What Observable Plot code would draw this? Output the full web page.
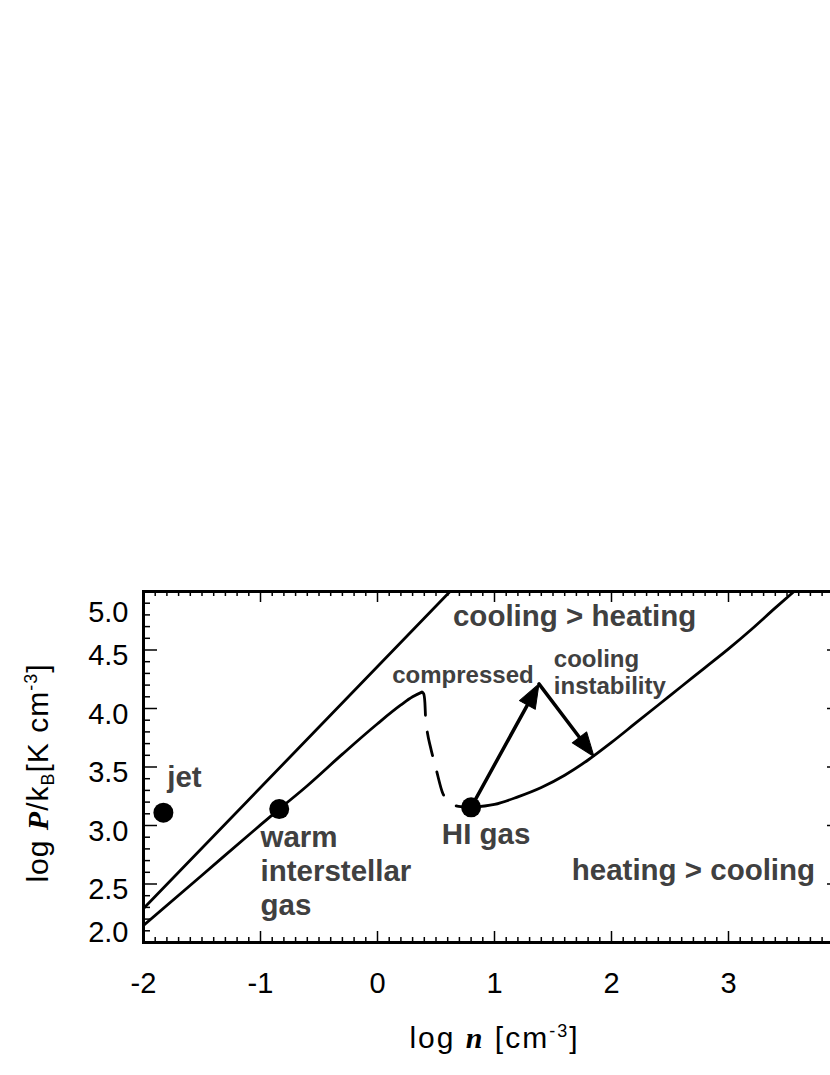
<!DOCTYPE html>
<html><head><meta charset="utf-8">
<script src="https://cdn.jsdelivr.net/npm/d3@7"></script>
<script src="https://cdn.jsdelivr.net/npm/@observablehq/plot@0.6"></script>
<style>
html,body{margin:0;padding:0;background:#fff;overflow:hidden;}
#chart svg{display:block;max-width:none !important;width:860px !important;height:1075px !important;}
</style></head><body><div id="chart"></div>
<script>
// ---- data (log n, log P/kB) ----
const upperX = [-2.0, 0.62];
const upperY = [2.29, 5.0];
const warmX = [-2.0, -1.5, -1.0, -0.84, -0.6, -0.3, 0.0, 0.2, 0.3, 0.38];
const warmY = [2.145, 2.575, 3.005, 3.14, 3.34, 3.61, 3.87, 4.03, 4.10, 4.14];
const unstableX = [0.38, 0.395, 0.405, 0.412, 0.427, 0.453, 0.504, 0.556, 0.624, 0.692, 0.80];
const unstableY = [4.14, 4.125, 4.05, 3.90, 3.79, 3.67, 3.47, 3.28, 3.195, 3.163, 3.155];
const coldX = [0.80, 1.0, 1.2, 1.4, 1.6, 1.8, 2.0, 2.2, 2.4, 2.6, 2.8, 3.0, 3.2, 3.4, 3.56];
const coldY = [3.155, 3.18, 3.245, 3.325, 3.43, 3.56, 3.71, 3.87, 4.03, 4.19, 4.35, 4.51, 4.68, 4.86, 5.0];
const pointNames = ["jet", "warm", "HI"];
const pointX = [-1.83, -0.84, 0.80];
const pointY = [3.11, 3.14, 3.155];
const arrowX1 = [0.80, 1.38];
const arrowY1 = [3.155, 4.21];
const arrowX2 = [1.38, 1.85];
const arrowY2 = [4.21, 3.59];
const bigLabels = ["cooling > heating", "heating > cooling", "jet", "warm\ninterstellar\ngas", "HI gas"];
const bigLabelX = [0.645, 1.66, -1.797, -1.0, 0.55];
const bigLabelY = [4.709, 2.530, 3.327, 2.239, 2.844];
const smallLabels = ["compressed", "cooling\ninstability"];
const smallLabelX = [0.126, 1.507];
const smallLabelY = [4.216, 4.126];
const xMajor = [-2, -1, 0, 1, 2, 3, 4];
const xTickLabels = [-2, -1, 0, 1, 2, 3];
const yMajor = [2.0, 2.5, 3.0, 3.5, 4.0, 4.5, 5.0];
const xTitle = "log n [cm-3]";
const yTitle = "log P/kB[K cm-3]";

// ---- layout ----
const W = 860, H = 1075;
const mL = 143, mR = 15, mT = 591, mB = 133;
const xDomain = [-2, 4], yDomain = [2, 5];
const pw = W - mL - mR, ph = H - mT - mB;
const kx = pw / (xDomain[1] - xDomain[0]), ky = ph / (yDomain[1] - yDomain[0]);

const near = (a, b) => Math.abs(a - b) < 1e-9;
const xMinor = d3.range(-20, 41).map(i => i / 10).filter(v => !xMajor.some(m => near(m, v)));
const yMinor = d3.range(20, 51).map(i => i / 10).filter(v => !yMajor.some(m => near(m, v)));

// arrows: shaft shortened so the filled head covers the end
const headLen = 24, headHalf = 9;
const arrows = arrowX1.map((x1, i) => {
  const dxp = (arrowX2[i] - x1) * kx, dyp = (arrowY2[i] - arrowY1[i]) * ky;
  const len = Math.hypot(dxp, dyp);
  const f = (len - headLen * 0.6) / len;
  return {
    x1, y1: arrowY1[i],
    x2s: x1 + (arrowX2[i] - x1) * f, y2s: arrowY1[i] + (arrowY2[i] - arrowY1[i]) * f,
    x2: arrowX2[i], y2: arrowY2[i],
    angle: Math.atan2(dxp, dyp) * 180 / Math.PI
  };
});
const headShape = {
  draw(ctx, l) {
    ctx.moveTo(0, -l);
    ctx.lineTo(-headHalf, -l + headLen);
    ctx.lineTo(headHalf, -l + headLen);
    ctx.closePath();
  }
};

const labelColor = "#404040";
const sans = "Liberation Sans, Arial, Helvetica, sans-serif";
const tickFont = {fontSize: 29, letterSpacing: 1};

const chart = Plot.plot({
  width: W, height: H,
  marginLeft: mL, marginRight: mR, marginTop: mT, marginBottom: mB,
  x: {domain: xDomain, axis: null},
  y: {domain: yDomain, axis: null},
  style: {fontFamily: sans, background: "white", color: "black"},
  marks: [
    // inward ticks on all four sides
    Plot.tickY(yMinor, {y: d => d, insetRight: pw - 7, strokeWidth: 1.5}),
    Plot.tickY(yMajor, {y: d => d, insetRight: pw - 14, strokeWidth: 1.5}),
    Plot.tickY(yMinor, {y: d => d, insetLeft: pw - 7, strokeWidth: 1.5}),
    Plot.tickY(yMajor, {y: d => d, insetLeft: pw - 18, strokeWidth: 1.5}),
    Plot.tickX(xMinor, {x: d => d, insetTop: ph - 5, strokeWidth: 1.5}),
    Plot.tickX(xMajor, {x: d => d, insetTop: ph - 11, strokeWidth: 1.5}),
    Plot.tickX(xMinor, {x: d => d, insetBottom: ph - 5, strokeWidth: 1.5}),
    Plot.tickX(xMajor, {x: d => d, insetBottom: ph - 11, strokeWidth: 1.5}),
    Plot.frame({strokeWidth: 3}),
    // tick labels
    Plot.text(yMajor.filter(v => v > 2 && v < 5), {y: d => d, text: d => d.toFixed(1), frameAnchor: "left", dx: -15, dy: 6, textAnchor: "end", ...tickFont}),
    Plot.text(yMajor.filter(v => v === 5), {y: d => d, text: d => d.toFixed(1), frameAnchor: "left", dx: -15, dy: 21, textAnchor: "end", ...tickFont}),
    Plot.text(yMajor.filter(v => v === 2), {y: d => d, text: d => d.toFixed(1), frameAnchor: "left", dx: -15, dy: -10, textAnchor: "end", ...tickFont}),
    Plot.text(xTickLabels, {x: d => d, text: d => String(d), frameAnchor: "bottom", dy: 50, ...tickFont}),
    // axis titles
    Plot.text([xTitle], {text: d => d, frameAnchor: "bottom", dy: 105, lineAnchor: "bottom", textAnchor: "middle", fontSize: 30}),
    Plot.text([yTitle], {text: d => d, frameAnchor: "left", dx: -96, dy: 6, rotate: -90, lineAnchor: "bottom", textAnchor: "middle", fontSize: 30}),
    // curves
    Plot.line(upperX, {x: upperX, y: upperY, strokeWidth: 2.8, clip: true}),
    Plot.line(warmX, {x: warmX, y: warmY, strokeWidth: 2.8, curve: "monotone-x", clip: true}),
    Plot.line(unstableX, {x: unstableX, y: unstableY, strokeWidth: 2.8, curve: "monotone-x", strokeDasharray: "24,17", clip: true}),
    Plot.line(coldX, {x: coldX, y: coldY, strokeWidth: 2.8, curve: "monotone-x", clip: true}),
    // arrows
    Plot.link(arrows, {x1: "x1", y1: "y1", x2: "x2s", y2: "y2s", strokeWidth: 3.5, strokeLinecap: "round"}),
    Plot.vector(arrows, {x: "x2", y: "y2", rotate: "angle", length: headLen, anchor: "end", shape: headShape, fill: "black", stroke: "black", strokeWidth: 1}),
    // points
    Plot.dot(pointNames, {x: pointX, y: pointY, r: 10, fill: "black"}),
    // annotations
    Plot.text(bigLabels, {x: bigLabelX, y: bigLabelY, text: d => d, textAnchor: "start", lineAnchor: "bottom", lineHeight: 1.14, fontSize: 29.5, fontWeight: "bold", fill: labelColor}),
    Plot.text(smallLabels, {x: smallLabelX, y: smallLabelY, text: d => d, textAnchor: "start", lineAnchor: "bottom", lineHeight: 1.11, fontSize: 24, fontWeight: "bold", fill: labelColor})
  ]
});

// rich formatting of axis titles (italic serif symbols, sub/superscripts)
const serif = 'font-family="Liberation Serif, Times New Roman, serif" font-style="italic" font-weight="bold"';
chart.querySelectorAll("text").forEach(t => {
  if (t.textContent === xTitle) {
    t.setAttribute("letter-spacing", "2");
    t.innerHTML = `log <tspan ${serif}>n</tspan> [cm<tspan dy="-11" font-size="18">-3</tspan><tspan dy="11">]</tspan>`;
  } else if (t.textContent === yTitle) {
    t.setAttribute("letter-spacing", "1");
    t.innerHTML = `log <tspan ${serif}>P</tspan>/k<tspan dy="6" font-size="18">B</tspan><tspan dy="-6">[K cm</tspan><tspan dy="-11" font-size="18">-3</tspan><tspan dy="11">]</tspan>`;
  }
});
document.getElementById("chart").appendChild(chart);
</script>
</body></html>
